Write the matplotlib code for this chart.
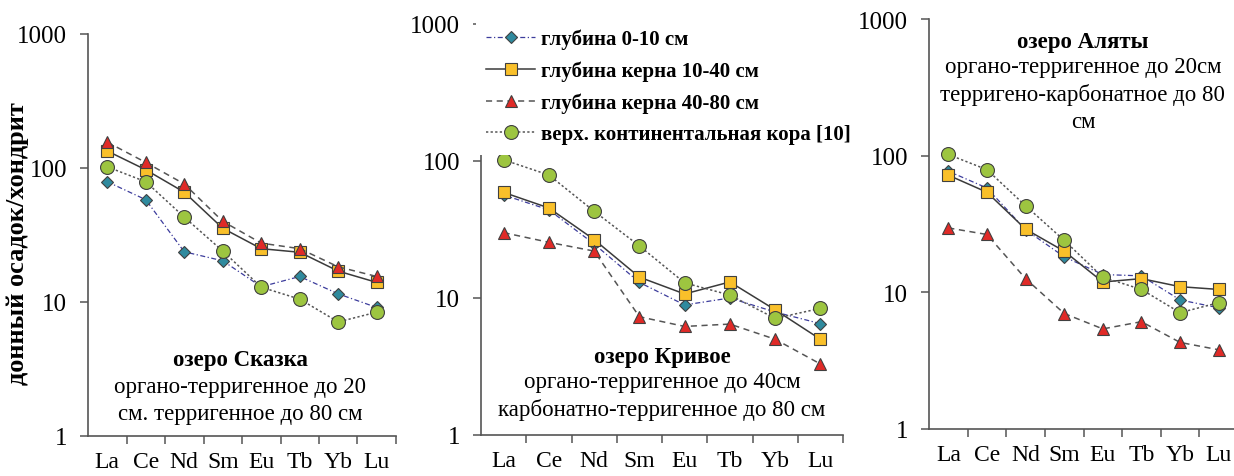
import numpy as np
import matplotlib
matplotlib.use("Agg")
import matplotlib.pyplot as plt
from matplotlib.ticker import FixedLocator, NullFormatter, NullLocator

plt.rcParams['font.family'] = ['Liberation Serif', 'DejaVu Serif']

# --- данные (нормировано на хондрит) ---
elements = ['La', 'Ce', 'Nd', 'Sm', 'Eu', 'Tb', 'Yb', 'Lu']
series_names = ['глубина 0-10 см', 'глубина керна 10-40 см',
                'глубина керна 40-80 см', 'верх. континентальная кора [10]']

crust = [102, 79, 43, 24, 12.9, 10.5, 7.1, 8.4]

skazka_0_10 = [79, 58, 23.7, 20.3, 13, 15.5, 11.5, 9.1]
skazka_10_40 = [134, 97, 66, 35.5, 25, 23.5, 17, 14]
skazka_40_80 = [156, 110, 76, 40, 27.5, 25, 18.3, 15.5]

krivoe_0_10 = [56.5, 44, 24.8, 13, 8.9, 10, 7.9, 6.5]
krivoe_10_40 = [59, 45.4, 26.7, 14.2, 10.7, 13.1, 8.2, 5.0]
krivoe_40_80 = [30, 25.5, 22, 7.3, 6.2, 6.45, 5.0, 3.3]

alyaty_0_10 = [77, 58, 28.7, 18.2, 13.5, 13.2, 8.8, 7.7]
alyaty_10_40 = [72, 54, 29, 20, 11.9, 12.6, 11, 10.5]
alyaty_40_80 = [29.6, 26.5, 12.6, 7.0, 5.4, 6.1, 4.3, 3.8]

styles = [
    dict(marker='D', ms=6.5, mfc='#2f8a9e', color='#3c3c9c', ls=(0, (4, 2, 1, 2)), lw=0.9),
    dict(marker='s', ms=8, mfc='#f9c02a', color='#3a3a3a', ls='-', lw=1.1),
    dict(marker='^', ms=9, mfc='#e02a27', color='#555555', ls=(0, (4, 3)), lw=1.1),
    dict(marker='o', ms=10, mfc='#9dc540', color='#555555', ls=(0, (1.5, 1.5)), lw=1.1),
]

fig = plt.figure(figsize=(12.34, 4.77), dpi=100)

axes_pos = [
    [88 / 1234, 1 - 437 / 477, 308 / 1234, 402 / 477],
    [481 / 1234, 1 - 436 / 477, 362 / 1234, 411 / 477],
    [929 / 1234, 1 - 430 / 477, 309 / 1234, 410 / 477],
]
panels = [
    [skazka_0_10, skazka_10_40, skazka_40_80, crust],
    [krivoe_0_10, krivoe_10_40, krivoe_40_80, crust],
    [alyaty_0_10, alyaty_10_40, alyaty_40_80, crust],
]

x = np.arange(len(elements))
axes = []
for pos, data in zip(axes_pos, panels):
    ax = fig.add_axes(pos)
    for vals, st, name in zip(data, styles, series_names):
        ax.plot(x, vals, marker=st['marker'], ms=st['ms'], mfc=st['mfc'],
                mec='#404040', mew=0.8, color=st['color'], ls=st['ls'],
                lw=st['lw'], label=name, clip_on=False)
    ax.set_yscale('log')
    ax.set_ylim(1, 1000)
    ax.set_xlim(-0.5, 7.5)
    ax.yaxis.set_major_locator(FixedLocator([1, 10, 100, 1000]))
    ax.yaxis.set_minor_locator(NullLocator())
    ax.set_yticklabels(['1', '10', '100', '1000'])
    ax.xaxis.set_major_locator(FixedLocator(np.arange(0.5, 8, 1)))
    ax.xaxis.set_major_formatter(NullFormatter())
    ax.xaxis.set_minor_locator(FixedLocator(x))
    ax.set_xticklabels(elements, minor=True)
    ax.tick_params(axis='x', which='major', direction='out', length=6,
                   width=1.1, color='#555555')
    ax.tick_params(axis='x', which='minor', length=0, pad=11, labelsize=17)
    ax.tick_params(axis='y', which='major', direction='out', length=6,
                   width=1.1, color='#555555', labelsize=18, pad=9)
    for s in ['top', 'right']:
        ax.spines[s].set_visible(False)
    for s in ['left', 'bottom']:
        ax.spines[s].set_color('#555555')
        ax.spines[s].set_linewidth(1.2)
    axes.append(ax)

ax1, ax2, ax3 = axes

ax1.set_ylabel('донный осадок/хондрит', fontsize=19, fontweight='bold')
ax1.yaxis.set_label_coords(-0.19, 0.48)

fs = 16.5
ax1.text(0.494, 0.190, 'озеро Сказка', fontsize=fs, fontweight='bold',
         ha='center', va='center', transform=ax1.transAxes)
ax1.text(0.494, 0.122, 'органо-терригенное до 20', fontsize=fs,
         ha='center', va='center', transform=ax1.transAxes)
ax1.text(0.494, 0.055, 'см. терригенное до 80 см', fontsize=fs,
         ha='center', va='center', transform=ax1.transAxes)

ax2.text(0.5, 0.192, 'озеро Кривое', fontsize=fs, fontweight='bold',
         ha='center', va='center', transform=ax2.transAxes)
ax2.text(0.5, 0.129, 'органо-терригенное до 40см', fontsize=fs,
         ha='center', va='center', transform=ax2.transAxes)
ax2.text(0.5, 0.063, 'карбонатно-терригенное до 80 см', fontsize=fs,
         ha='center', va='center', transform=ax2.transAxes)

ax3.text(0.498, 0.944, 'озеро Аляты', fontsize=fs, fontweight='bold',
         ha='center', va='center', transform=ax3.transAxes)
ax3.text(0.498, 0.883, 'органо-терригенное до 20см', fontsize=fs,
         ha='center', va='center', transform=ax3.transAxes)
ax3.text(0.498, 0.817, 'терригено-карбонатное до 80', fontsize=fs,
         ha='center', va='center', transform=ax3.transAxes)
ax3.text(0.498, 0.751, 'см', fontsize=fs,
         ha='center', va='center', transform=ax3.transAxes)

leg = ax2.legend(loc='upper left', bbox_to_anchor=(476 / 1234, 1 - 19 / 477),
                 bbox_transform=fig.transFigure, frameon=True, fancybox=False,
                 edgecolor='none', facecolor='white', framealpha=1,
                 prop={'family': 'Liberation Serif', 'weight': 'bold', 'size': 15},
                 handlelength=2.35, handletextpad=0.25, labelspacing=0.55,
                 borderpad=0.5, borderaxespad=0)
leg.set_zorder(10)

fig.savefig('out.png', dpi=100)
